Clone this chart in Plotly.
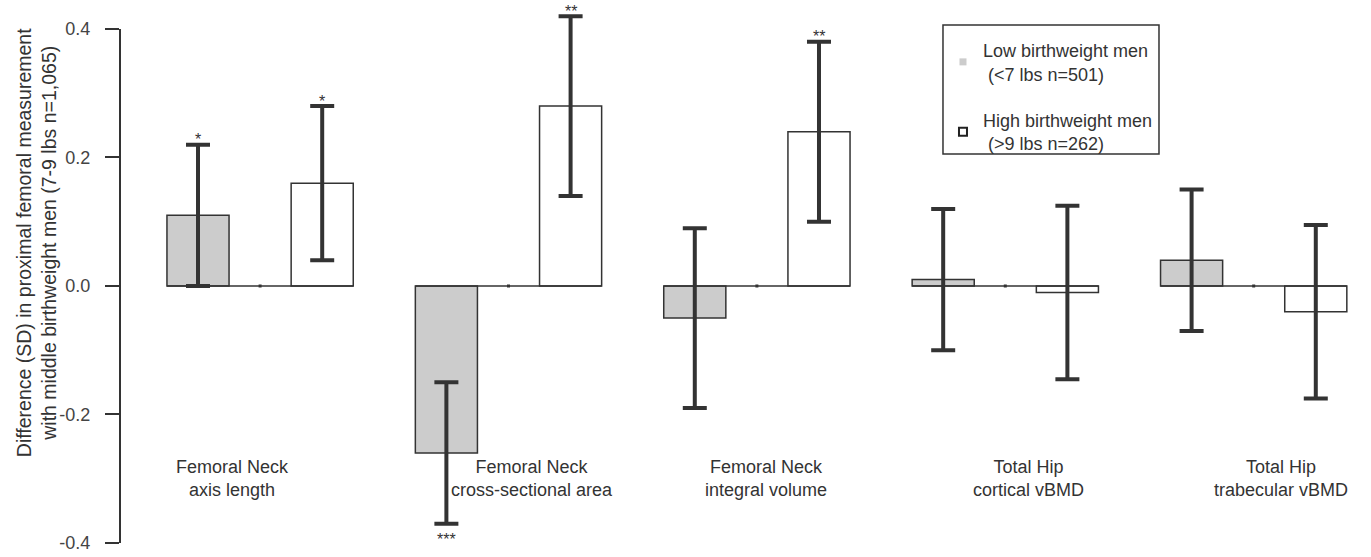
import plotly.graph_objects as go

# ---- data ----
categories = ["Femoral Neck<br>axis length",
              "Femoral Neck<br>cross-sectional area",
              "Femoral Neck<br>integral volume",
              "Total Hip<br>cortical vBMD",
              "Total Hip<br>trabecular vBMD"]
low_vals = [0.11, -0.26, -0.05, 0.01, 0.04]
low_err = [0.11, 0.11, 0.14, 0.11, 0.11]
high_vals = [0.16, 0.28, 0.24, -0.01, -0.04]
high_err = [0.12, 0.14, 0.14, 0.135, 0.135]
low_sig = ["*", "***", "", "", ""]
high_sig = ["*", "**", "**", "", ""]
label_x = [0.56, 5.38, 9.15, 13.38, 17.44]
y_ticks = [-0.4, -0.2, 0.0, 0.2, 0.4]
legend_low = "Low birthweight men<br>&nbsp;(<7 lbs n=501)"
legend_high = "High birthweight men<br>&nbsp;(>9 lbs n=262)"
y_title = "Difference (SD) in proximal femoral measurement<br>with middle birthweight men (7-9 lbs n=1,065)"

FONT = "Liberation Sans, Arial, sans-serif"
TXT = "#333333"
DARK = "#333333"
GRAY = "#cccccc"

n = len(categories)
low_x = [4 * i for i in range(n)]
mid_x = [4 * i + 1 for i in range(n)]
high_x = [4 * i + 2 for i in range(n)]

fig = go.Figure()

# zero line across each group (middle group reference = 0)
zx, zy = [], []
for i in range(n):
    zx += [low_x[i] - 0.5, high_x[i] + 0.5, None]
    zy += [0, 0, None]
fig.add_trace(go.Scatter(x=zx, y=zy, mode="lines", line=dict(color=DARK, width=1.5),
                         showlegend=False, hoverinfo="skip"))

fig.add_trace(go.Bar(x=low_x, y=low_vals, width=1,
                     marker=dict(color=GRAY, line=dict(color=DARK, width=1.5)),
                     error_y=dict(type="data", array=low_err, color=DARK, thickness=4, width=12),
                     showlegend=False))
fig.add_trace(go.Bar(x=high_x, y=high_vals, width=1,
                     marker=dict(color="white", line=dict(color=DARK, width=1.5)),
                     error_y=dict(type="data", array=high_err, color=DARK, thickness=4, width=12),
                     showlegend=False))
# middle reference marker
fig.add_trace(go.Scatter(x=mid_x, y=[0] * n, mode="markers",
                         marker=dict(color=DARK, size=3, symbol="square"),
                         showlegend=False, hoverinfo="skip"))

# legend dummy traces
fig.add_trace(go.Scatter(x=[None], y=[None], mode="markers", name=legend_low,
                         legendgroup="a",
                         marker=dict(symbol="square", size=7, color=GRAY, line=dict(width=0))))
fig.add_trace(go.Scatter(x=[None], y=[None], mode="markers", name=legend_high,
                         legendgroup="b",
                         marker=dict(symbol="square", size=8, color="white",
                                     line=dict(color="#222222", width=2))))

annotations = []
# significance stars
for xs, vs, es, ss in [(low_x, low_vals, low_err, low_sig), (high_x, high_vals, high_err, high_sig)]:
    for x, v, e, s in zip(xs, vs, es, ss):
        if not s:
            continue
        sgn = 1 if v >= 0 else -1
        annotations.append(dict(x=x, y=v + sgn * e, text=s, showarrow=False,
                                yshift=5 if sgn > 0 else -16,
                                font=dict(size=16, color=TXT, family=FONT)))
# category labels
for lx, c in zip(label_x, categories):
    annotations.append(dict(x=lx, y=-0.30, text=c, showarrow=False,
                            font=dict(size=18, color=TXT, family=FONT)))
# y-axis title
annotations.append(dict(xref="paper", yref="paper", x=-0.0677, y=0.564, text=y_title,
                        textangle=-90, showarrow=False, xanchor="center", yanchor="middle",
                        font=dict(size=19.5, color=TXT, family=FONT)))

fig.update_layout(
    width=1371, height=557,
    margin=dict(l=120, r=11, t=2, b=2, autoexpand=False),
    plot_bgcolor="white", paper_bgcolor="white",
    barmode="overlay",
    font=dict(family=FONT, size=18, color=TXT),
    xaxis=dict(range=[-1.256, 18.712], visible=False, showgrid=False, zeroline=False),
    yaxis=dict(range=[-0.4187, 0.442], tickvals=y_ticks, ticktext=[f"{t:.1f}" for t in y_ticks],
               showline=False, ticks="outside", ticklen=14, ticklabelstandoff=11,
               tickwidth=2, tickcolor=DARK, showgrid=False, zeroline=False,
               tickfont=dict(size=18, color="#444444", family=FONT)),
    shapes=[dict(type="line", xref="paper", yref="y", x0=0, x1=0,
                 y0=y_ticks[0], y1=y_ticks[-1], line=dict(color=DARK, width=2)),
            # legend frame
            dict(type="rect", xref="paper", yref="paper", x0=0.6637, x1=0.8379,
                 y0=0.7251, y1=0.9584, line=dict(color=DARK, width=1.5),
                 fillcolor="rgba(0,0,0,0)")],
    legend=dict(x=0.6637, y=0.9458, xanchor="left", yanchor="top",
                borderwidth=0, bgcolor="rgba(0,0,0,0)",
                tracegroupgap=20, font=dict(size=18, color=TXT, family=FONT)),
    annotations=annotations,
    showlegend=True,
)

fig.write_html("out.html", config={"displayModeBar": False},
               post_script="document.body.style.margin='0';")
